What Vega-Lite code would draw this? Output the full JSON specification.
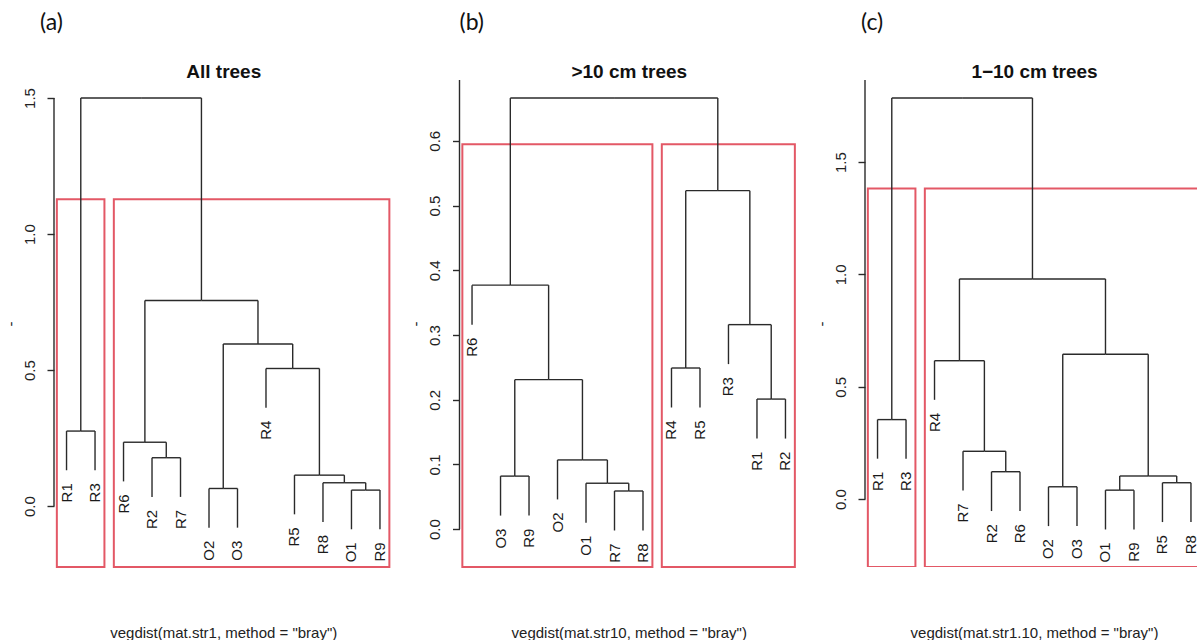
{
  "$schema": "https://vega.github.io/schema/vega-lite/v6.json",
  "background": "white",
  "padding": {"left": 3, "top": 12, "right": 0, "bottom": 0},
  "spacing": 66.5,
  "bounds": "flush",
  "config": {
    "view": {"stroke": null},
    "font": "Liberation Sans",
    "title": {"font": "Lato", "fontSize": 23, "fontWeight": "normal", "color": "#111", "anchor": "start", "frame": "group", "baseline": "alphabetic", "offset": 27},
    "axis": {"labelFont": "Liberation Sans", "titleFont": "Liberation Sans", "labelColor": "#222", "titleColor": "#222", "tickColor": "#2a2a2a", "tickWidth": 1.4, "domain": false, "grid": false},
    "axisY": {"labelFontSize": 15, "labelAngle": 270, "labelAlign": "center", "labelBaseline": "bottom", "tickSize": 7, "labelPadding": 10, "titleFontSize": 15, "titleFontWeight": "normal", "titleAngle": 270, "titlePadding": 4, "format": ".1f"}
  },
  "datasets": {
    "treeA": [
      {"label": "R1", "x": 1, "h": 0.132, "px": 1.5, "ph": 0.276},
      {"label": "R3", "x": 2, "h": 0.132, "px": 1.5, "ph": 0.276},
      {"label": "R6", "x": 3, "h": 0.091, "px": 3.75, "ph": 0.235},
      {"label": "R2", "x": 4, "h": 0.034, "px": 4.5, "ph": 0.178},
      {"label": "R7", "x": 5, "h": 0.034, "px": 4.5, "ph": 0.178},
      {"label": "O2", "x": 6, "h": -0.079, "px": 6.5, "ph": 0.065},
      {"label": "O3", "x": 7, "h": -0.079, "px": 6.5, "ph": 0.065},
      {"label": "R4", "x": 8, "h": 0.362, "px": 8.9375, "ph": 0.506},
      {"label": "R5", "x": 9, "h": -0.030, "px": 9.875, "ph": 0.114},
      {"label": "R8", "x": 10, "h": -0.058, "px": 10.75, "ph": 0.086},
      {"label": "O1", "x": 11, "h": -0.085, "px": 11.5, "ph": 0.059},
      {"label": "R9", "x": 12, "h": -0.085, "px": 11.5, "ph": 0.059},
      {"x": 11.5, "h": 0.059, "px": 10.75, "ph": 0.086},
      {"x": 10.75, "h": 0.086, "px": 9.875, "ph": 0.114},
      {"x": 9.875, "h": 0.114, "px": 8.9375, "ph": 0.506},
      {"x": 8.9375, "h": 0.506, "px": 7.71875, "ph": 0.596},
      {"x": 6.5, "h": 0.065, "px": 7.71875, "ph": 0.596},
      {"x": 4.5, "h": 0.178, "px": 3.75, "ph": 0.235},
      {"x": 3.75, "h": 0.235, "px": 5.734375, "ph": 0.756},
      {"x": 7.71875, "h": 0.596, "px": 5.734375, "ph": 0.756},
      {"x": 1.5, "h": 0.276, "px": 3.6171875, "ph": 1.5},
      {"x": 5.734375, "h": 0.756, "px": 3.6171875, "ph": 1.5}
    ],
    "treeB": [
      {"label": "R6", "x": 1, "h": 0.316, "px": 2.34375, "ph": 0.377},
      {"label": "O3", "x": 2, "h": 0.021, "px": 2.5, "ph": 0.082},
      {"label": "R9", "x": 3, "h": 0.021, "px": 2.5, "ph": 0.082},
      {"label": "O2", "x": 4, "h": 0.046, "px": 4.875, "ph": 0.107},
      {"label": "O1", "x": 5, "h": 0.010, "px": 5.75, "ph": 0.071},
      {"label": "R7", "x": 6, "h": -0.002, "px": 6.5, "ph": 0.059},
      {"label": "R8", "x": 7, "h": -0.002, "px": 6.5, "ph": 0.059},
      {"label": "R4", "x": 8, "h": 0.188, "px": 8.5, "ph": 0.249},
      {"label": "R5", "x": 9, "h": 0.188, "px": 8.5, "ph": 0.249},
      {"label": "R3", "x": 10, "h": 0.255, "px": 10.75, "ph": 0.316},
      {"label": "R1", "x": 11, "h": 0.140, "px": 11.5, "ph": 0.201},
      {"label": "R2", "x": 12, "h": 0.140, "px": 11.5, "ph": 0.201},
      {"x": 6.5, "h": 0.059, "px": 5.75, "ph": 0.071},
      {"x": 5.75, "h": 0.071, "px": 4.875, "ph": 0.107},
      {"x": 4.875, "h": 0.107, "px": 3.6875, "ph": 0.231},
      {"x": 2.5, "h": 0.082, "px": 3.6875, "ph": 0.231},
      {"x": 3.6875, "h": 0.231, "px": 2.34375, "ph": 0.377},
      {"x": 2.34375, "h": 0.377, "px": 5.984375, "ph": 0.666},
      {"x": 11.5, "h": 0.201, "px": 10.75, "ph": 0.316},
      {"x": 10.75, "h": 0.316, "px": 9.625, "ph": 0.523},
      {"x": 8.5, "h": 0.249, "px": 9.625, "ph": 0.523},
      {"x": 9.625, "h": 0.523, "px": 5.984375, "ph": 0.666}
    ],
    "treeC": [
      {"label": "R1", "x": 1, "h": 0.180, "px": 1.5, "ph": 0.354},
      {"label": "R3", "x": 2, "h": 0.180, "px": 1.5, "ph": 0.354},
      {"label": "R4", "x": 3, "h": 0.442, "px": 3.875, "ph": 0.616},
      {"label": "R7", "x": 4, "h": 0.039, "px": 4.75, "ph": 0.213},
      {"label": "R2", "x": 5, "h": -0.053, "px": 5.5, "ph": 0.122},
      {"label": "R6", "x": 6, "h": -0.053, "px": 5.5, "ph": 0.122},
      {"label": "O2", "x": 7, "h": -0.120, "px": 7.5, "ph": 0.055},
      {"label": "O3", "x": 8, "h": -0.120, "px": 7.5, "ph": 0.055},
      {"label": "O1", "x": 9, "h": -0.135, "px": 9.5, "ph": 0.040},
      {"label": "R9", "x": 10, "h": -0.135, "px": 9.5, "ph": 0.040},
      {"label": "R5", "x": 11, "h": -0.102, "px": 11.5, "ph": 0.073},
      {"label": "R8", "x": 12, "h": -0.102, "px": 11.5, "ph": 0.073},
      {"x": 5.5, "h": 0.122, "px": 4.75, "ph": 0.213},
      {"x": 4.75, "h": 0.213, "px": 3.875, "ph": 0.616},
      {"x": 3.875, "h": 0.616, "px": 6.4375, "ph": 0.980},
      {"x": 7.5, "h": 0.055, "px": 9, "ph": 0.645},
      {"x": 9.5, "h": 0.040, "px": 10.5, "ph": 0.103},
      {"x": 11.5, "h": 0.073, "px": 10.5, "ph": 0.103},
      {"x": 10.5, "h": 0.103, "px": 9, "ph": 0.645},
      {"x": 9, "h": 0.645, "px": 6.4375, "ph": 0.980},
      {"x": 1.5, "h": 0.354, "px": 3.96875, "ph": 1.785},
      {"x": 6.4375, "h": 0.980, "px": 3.96875, "ph": 1.785}
    ],
    "boxA": [
      {"left": 0.66, "right": 2.33, "bottom": -0.2236, "top": 1.128},
      {"left": 2.66, "right": 12.33, "bottom": -0.2236, "top": 1.128}
    ],
    "boxB": [
      {"left": 0.66, "right": 7.33, "bottom": -0.0584, "top": 0.5945},
      {"left": 7.66, "right": 12.33, "bottom": -0.0584, "top": 0.5945}
    ],
    "boxC": [
      {"left": 0.66, "right": 2.33, "bottom": -0.302, "top": 1.3825},
      {"left": 2.66, "right": 12.33, "bottom": -0.302, "top": 1.3825}
    ]
  },
  "hconcat": [
    {
      "width": 338.5,
      "height": 487,
      "title": {"text": "(a)", "dx": -14},
      "resolve": {"axis": {"x": "independent"}},
      "layer": [
        {
          "data": {"name": "boxA"},
          "mark": {"type": "rect", "fillOpacity": 0, "stroke": "#e35866", "strokeWidth": 2},
          "encoding": {
            "x": {"field": "left", "type": "quantitative", "scale": {"domain": [0.56, 12.44], "nice": false, "zero": false},
                  "axis": {"orient": "bottom", "labels": false, "ticks": false, "title": "vegdist(mat.str1, method = \"bray\")", "titleFontSize": 15, "titleFontWeight": "normal", "titlePadding": 58}},
            "x2": {"field": "right"},
            "y": {"field": "bottom", "type": "quantitative", "scale": {"domain": [-0.2236, 1.5663], "nice": false, "zero": false}, "axis": {"values": [0, 0.5, 1, 1.5], "title": "-"}},
            "y2": {"field": "top"}
          }
        },
        {
          "data": {"name": "treeA"},
          "mark": {"type": "rule", "color": "#2a2a2a", "strokeWidth": 1.4},
          "encoding": {
            "x": {"field": "x", "type": "quantitative",
                  "axis": {"orient": "top", "labels": false, "ticks": false, "title": "All trees", "titleFontSize": 19, "titleFontWeight": "bold", "titleColor": "#111", "titleBaseline": "alphabetic", "titlePadding": 3}},
            "y": {"field": "h", "type": "quantitative"},
            "y2": {"field": "ph"}
          }
        },
        {
          "data": {"name": "treeA"},
          "mark": {"type": "rule", "color": "#2a2a2a", "strokeWidth": 1.4},
          "encoding": {
            "x": {"field": "x", "type": "quantitative", "axis": null},
            "x2": {"field": "px"},
            "y": {"field": "ph", "type": "quantitative"}
          }
        },
        {
          "data": {"name": "treeA"},
          "transform": [{"filter": "isValid(datum.label)"}],
          "mark": {"type": "text", "angle": 270, "align": "right", "baseline": "middle", "dx": -13, "fontSize": 15, "color": "#1a1a1a"},
          "encoding": {
            "x": {"field": "x", "type": "quantitative", "axis": null},
            "y": {"field": "h", "type": "quantitative"},
            "text": {"field": "label"}
          }
        },
        {
          "data": {"values": [{}]},
          "mark": {"type": "rule", "color": "#2a2a2a", "strokeWidth": 1.4},
          "encoding": {
            "x": {"datum": 0.56, "type": "quantitative", "axis": null},
            "y": {"datum": 0, "type": "quantitative"},
            "y2": {"datum": 1.5}
          }
        }
      ]
    },
    {
      "width": 338.5,
      "height": 487,
      "title": {"text": "(b)", "dx": 0},
      "resolve": {"axis": {"x": "independent"}},
      "layer": [
        {
          "data": {"name": "boxB"},
          "mark": {"type": "rect", "fillOpacity": 0, "stroke": "#e35866", "strokeWidth": 2},
          "encoding": {
            "x": {"field": "left", "type": "quantitative", "scale": {"domain": [0.56, 12.44], "nice": false, "zero": false},
                  "axis": {"orient": "bottom", "labels": false, "ticks": false, "title": "vegdist(mat.str10, method = \"bray\")", "titleFontSize": 15, "titleFontWeight": "normal", "titlePadding": 58}},
            "x2": {"field": "right"},
            "y": {"field": "bottom", "type": "quantitative", "scale": {"domain": [-0.0584, 0.6939], "nice": false, "zero": false}, "axis": {"values": [0, 0.1, 0.2, 0.3, 0.4, 0.5, 0.6], "title": "-"}},
            "y2": {"field": "top"}
          }
        },
        {
          "data": {"name": "treeB"},
          "mark": {"type": "rule", "color": "#2a2a2a", "strokeWidth": 1.4},
          "encoding": {
            "x": {"field": "x", "type": "quantitative",
                  "axis": {"orient": "top", "labels": false, "ticks": false, "title": ">10 cm trees", "titleFontSize": 19, "titleFontWeight": "bold", "titleColor": "#111", "titleBaseline": "alphabetic", "titlePadding": 3}},
            "y": {"field": "h", "type": "quantitative"},
            "y2": {"field": "ph"}
          }
        },
        {
          "data": {"name": "treeB"},
          "mark": {"type": "rule", "color": "#2a2a2a", "strokeWidth": 1.4},
          "encoding": {
            "x": {"field": "x", "type": "quantitative", "axis": null},
            "x2": {"field": "px"},
            "y": {"field": "ph", "type": "quantitative"}
          }
        },
        {
          "data": {"name": "treeB"},
          "transform": [{"filter": "isValid(datum.label)"}],
          "mark": {"type": "text", "angle": 270, "align": "right", "baseline": "middle", "dx": -13, "fontSize": 15, "color": "#1a1a1a"},
          "encoding": {
            "x": {"field": "x", "type": "quantitative", "axis": null},
            "y": {"field": "h", "type": "quantitative"},
            "text": {"field": "label"}
          }
        },
        {
          "data": {"values": [{}]},
          "mark": {"type": "rule", "color": "#2a2a2a", "strokeWidth": 1.4},
          "encoding": {
            "x": {"datum": 0.56, "type": "quantitative", "axis": null},
            "y": {"datum": 0, "type": "quantitative"},
            "y2": {"datum": 0.6939}
          }
        }
      ]
    },
    {
      "width": 332.8,
      "height": 487,
      "title": {"text": "(c)", "dx": -4},
      "resolve": {"axis": {"x": "independent"}},
      "layer": [
        {
          "data": {"name": "boxC"},
          "mark": {"type": "rect", "fillOpacity": 0, "stroke": "#e35866", "strokeWidth": 2, "clip": true},
          "encoding": {
            "x": {"field": "left", "type": "quantitative", "scale": {"domain": [0.56, 12.24], "nice": false, "zero": false},
                  "axis": {"orient": "bottom", "labels": false, "ticks": false, "title": "vegdist(mat.str1.10, method = \"bray\")", "titleFontSize": 15, "titleFontWeight": "normal", "titlePadding": 58, "titleX": 169}},
            "x2": {"field": "right"},
            "y": {"field": "bottom", "type": "quantitative", "scale": {"domain": [-0.302, 1.8653], "nice": false, "zero": false}, "axis": {"values": [0, 0.5, 1, 1.5], "title": "-"}},
            "y2": {"field": "top"}
          }
        },
        {
          "data": {"name": "treeC"},
          "mark": {"type": "rule", "color": "#2a2a2a", "strokeWidth": 1.4},
          "encoding": {
            "x": {"field": "x", "type": "quantitative",
                  "axis": {"orient": "top", "labels": false, "ticks": false, "title": "1−10 cm trees", "titleFontSize": 19, "titleFontWeight": "bold", "titleColor": "#111", "titleBaseline": "alphabetic", "titlePadding": 3, "titleX": 169}},
            "y": {"field": "h", "type": "quantitative"},
            "y2": {"field": "ph"}
          }
        },
        {
          "data": {"name": "treeC"},
          "mark": {"type": "rule", "color": "#2a2a2a", "strokeWidth": 1.4},
          "encoding": {
            "x": {"field": "x", "type": "quantitative", "axis": null},
            "x2": {"field": "px"},
            "y": {"field": "ph", "type": "quantitative"}
          }
        },
        {
          "data": {"name": "treeC"},
          "transform": [{"filter": "isValid(datum.label)"}],
          "mark": {"type": "text", "angle": 270, "align": "right", "baseline": "middle", "dx": -13, "fontSize": 15, "color": "#1a1a1a"},
          "encoding": {
            "x": {"field": "x", "type": "quantitative", "axis": null},
            "y": {"field": "h", "type": "quantitative"},
            "text": {"field": "label"}
          }
        },
        {
          "data": {"values": [{}]},
          "mark": {"type": "rule", "color": "#2a2a2a", "strokeWidth": 1.4},
          "encoding": {
            "x": {"datum": 0.56, "type": "quantitative", "axis": null},
            "y": {"datum": 0, "type": "quantitative"},
            "y2": {"datum": 1.8653}
          }
        }
      ]
    }
  ]
}
